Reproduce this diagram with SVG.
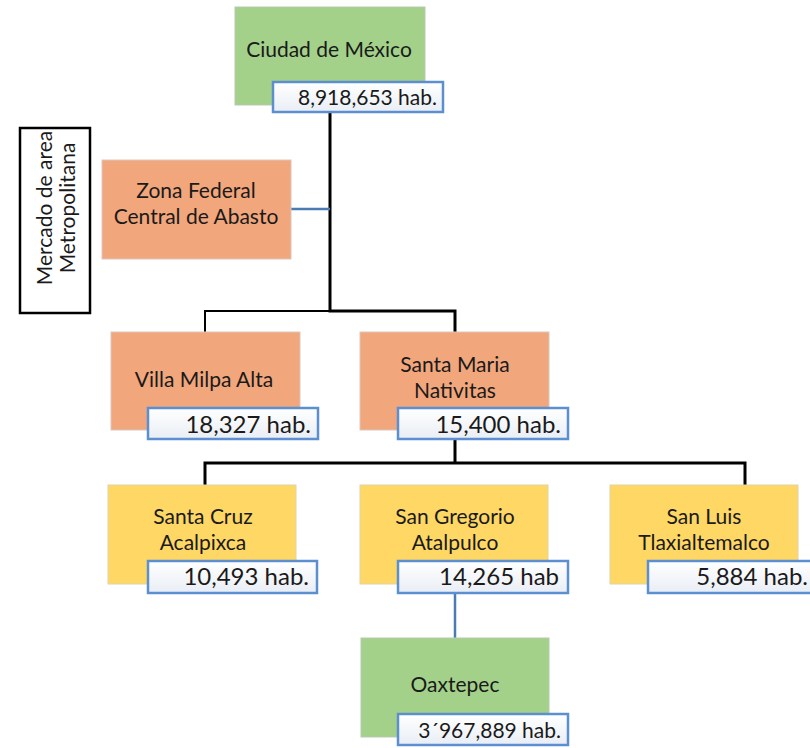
<svg xmlns="http://www.w3.org/2000/svg" width="810" height="748" viewBox="0 0 810 748">
<defs>
<linearGradient id="lg" x1="0" y1="0" x2="0" y2="1">
<stop offset="0" stop-color="#ffffff"/>
<stop offset="1" stop-color="#e9eef5"/>
</linearGradient>
</defs>
<style>
.g{fill:#a3d18a;stroke:#b7c9ae;stroke-width:1}
.o{fill:#f2a67c;stroke:#d9c7bd;stroke-width:1}
.y{fill:#fed764;stroke:#e0d3a8;stroke-width:1}
.lb{fill:url(#lg);stroke:#5b8fd0;stroke-width:2.5}
.t{font-family:Lato,"Open Sans",sans-serif;font-size:21px;fill:#1a1a1a;text-anchor:middle}
.n{font-family:Lato,"Open Sans",sans-serif;font-size:21px;fill:#1a1a1a;text-anchor:end}
.m{font-size:24px}
.k{fill:none;stroke:#000;stroke-width:3}
.k2{fill:none;stroke:#000;stroke-width:2}
.b{fill:none;stroke:#4a7bb5;stroke-width:2.5}
</style>
<g id="connectors">
<path class="k" d="M330 112 V311 H455 V332"/>
<path class="k2" d="M330 311 H205 V332"/>
<path class="b" d="M291 209 H330"/>
<path class="k" d="M455 439 V463 M205 485 V463 H745 V485"/>
<path class="b" d="M455 593 V638"/>
</g>
<g id="mercado">
<rect x="20" y="128" width="70" height="185" fill="#fff" stroke="#000" stroke-width="2.5"/>
<text class="t" transform="translate(52 208) rotate(-90)">Mercado de area</text>
<text class="t" transform="translate(75 208) rotate(-90)">Metropolitana</text>
</g>
<g id="ciudad">
<rect class="g" x="235" y="7" width="190" height="98"/>
<text class="t" x="329" y="57">Ciudad de México</text>
<rect class="lb" x="273" y="82" width="170" height="30"/>
<text class="n" x="437" y="105">8,918,653 hab.</text>
</g>
<g id="zona">
<rect class="o" x="102" y="160" width="189" height="99"/>
<text class="t" x="196" y="198">Zona Federal</text>
<text class="t" x="196" y="224">Central de Abasto</text>
</g>
<g id="villa">
<rect class="o" x="111" y="332" width="189" height="98"/>
<text class="t" x="204" y="387">Villa Milpa Alta</text>
<rect class="lb" x="148" y="408" width="170" height="31"/>
<text class="n m" x="311" y="433">18,327 hab.</text>
</g>
<g id="santamaria">
<rect class="o" x="360" y="332" width="189" height="98"/>
<text class="t" x="455" y="372">Santa Maria</text>
<text class="t" x="455" y="398">Nativitas</text>
<rect class="lb" x="398" y="408" width="170" height="31"/>
<text class="n m" x="561" y="433">15,400 hab.</text>
</g>
<g id="santacruz">
<rect class="y" x="108" y="485" width="188" height="99"/>
<text class="t" x="203" y="524">Santa Cruz</text>
<text class="t" x="203" y="550">Acalpixca</text>
<rect class="lb" x="148" y="561" width="169" height="32"/>
<text class="n m" x="309" y="585">10,493 hab.</text>
</g>
<g id="sangregorio">
<rect class="y" x="360" y="485" width="188" height="99"/>
<text class="t" x="455" y="524">San Gregorio</text>
<text class="t" x="455" y="550">Atalpulco</text>
<rect class="lb" x="398" y="561" width="170" height="32"/>
<text class="n m" x="559" y="585">14,265 hab</text>
</g>
<g id="sanluis">
<rect class="y" x="610" y="485" width="188" height="99"/>
<text class="t" x="704" y="524">San Luis</text>
<text class="t" x="704" y="550">Tlaxialtemalco</text>
<rect class="lb" x="648" y="561" width="170" height="32"/>
<text class="n m" x="808" y="585">5,884 hab.</text>
</g>
<g id="oaxtepec">
<rect class="g" x="361" y="638" width="188" height="99"/>
<text class="t" x="455" y="692">Oaxtepec</text>
<rect class="lb" x="398" y="714" width="170" height="31"/>
<text class="n" x="561" y="738">3´967,889 hab.</text>
</g>
</svg>
